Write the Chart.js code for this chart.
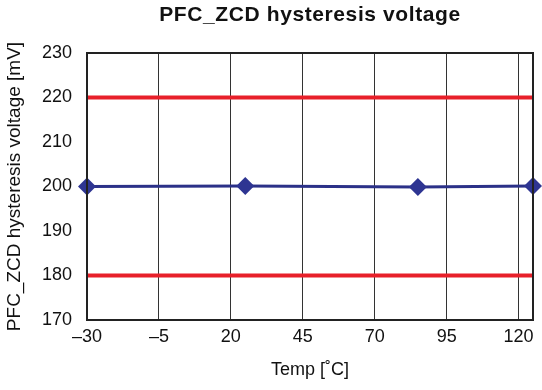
<!DOCTYPE html>
<html>
<head>
<meta charset="utf-8">
<script src="https://cdn.jsdelivr.net/npm/chart.js@4.4.0/dist/chart.umd.min.js"></script>
<style>
  body { margin: 0; background: #fff; }
  #wrap { width: 542px; height: 390px; }
</style>
</head>
<body>
<div id="wrap"><canvas id="chart" width="542" height="390"></canvas></div>
<script>
// data
const temps = [-30, 25, 85, 125];
const hysteresis = [200, 200.1, 199.9, 200.1];
const upperLimit = 220;
const lowerLimit = 180;
const xTicks = [-30, -5, 20, 45, 70, 95, 120];
const xRange = [-30, 125];
const yRange = [170, 230];

const FONT = '"Liberation Sans", Arial, sans-serif';

// title centered over the plot area + frame around it
const frameAndTitle = {
  id: 'frameAndTitle',
  afterDraw(chart) {
    const { ctx, chartArea: a } = chart;
    ctx.save();
    ctx.strokeStyle = '#222';
    ctx.lineWidth = 2;
    ctx.strokeRect(a.left, a.top, a.right - a.left, a.bottom - a.top);
    ctx.fillStyle = '#111';
    ctx.font = 'bold 21px ' + FONT;
    ctx.letterSpacing = '0.6px';
    ctx.textAlign = 'center';
    ctx.textBaseline = 'alphabetic';
    ctx.fillText('PFC_ZCD hysteresis voltage', (a.left + a.right) / 2, 21);
    ctx.restore();
  }
};

new Chart(document.getElementById('chart'), {
  type: 'line',
  data: {
    datasets: [
      {
        label: 'upper',
        data: xRange.map(x => ({ x: x, y: upperLimit })),
        borderColor: '#e8202a',
        borderWidth: 4,
        pointRadius: 0,
      },
      {
        label: 'lower',
        data: xRange.map(x => ({ x: x, y: lowerLimit })),
        borderColor: '#e8202a',
        borderWidth: 4,
        pointRadius: 0,
      },
      {
        label: 'PFC_ZCD',
        data: temps.map((t, i) => ({ x: t, y: hysteresis[i] })),
        borderColor: '#2b3188',
        backgroundColor: '#2e3592',
        borderWidth: 3,
        pointStyle: 'rectRot',
        pointRadius: 9,
        pointBorderWidth: 0,
        clip: false,
      },
    ],
  },
  options: {
    responsive: false,
    animation: false,
    layout: { padding: { top: 53, right: 5, left: 3, bottom: 0 } },
    plugins: {
      legend: { display: false },
      title: { display: false },
      tooltip: { enabled: false },
    },
    scales: {
      x: {
        type: 'linear',
        min: xRange[0],
        max: xRange[1],
        afterBuildTicks: (axis) => {
          axis.ticks = xTicks.map(v => ({ value: v }));
        },
        afterFit: (axis) => {
          axis.height = 70;
          axis.paddingRight = 0;
          // "120" sits well inside the edge, so no overhang is needed
          axis.getPadding = () => ({ left: axis.paddingLeft, top: 0, right: 0, bottom: 0 });
        },
        grid: { color: '#333', lineWidth: 1, drawTicks: false },
        border: { display: false },
        ticks: {
          color: '#111',
          font: { family: FONT, size: 18 },
          padding: 6,
          maxRotation: 0,
          autoSkip: false,
          callback: (v) => String(v).replace('-', '\u2013'),
        },
        title: {
          display: true,
          text: 'Temp [\u02daC]',
          color: '#111',
          font: { family: FONT, size: 18 },
          padding: { top: 0, bottom: 9 },
        },
      },
      y: {
        min: yRange[0],
        max: yRange[1],
        afterFit: (axis) => { axis.width = 84; },
        grid: { display: false, drawTicks: false },
        border: { display: false },
        ticks: {
          stepSize: 10,
          color: '#111',
          font: { family: FONT, size: 18 },
          padding: 15,
        },
        title: {
          display: true,
          text: 'PFC_ZCD hysteresis voltage [mV]',
          color: '#111',
          font: { family: FONT, size: 19 },
          padding: { top: 0, bottom: 0 },
        },
      },
    },
  },
  plugins: [frameAndTitle],
});
</script>
</body>
</html>
